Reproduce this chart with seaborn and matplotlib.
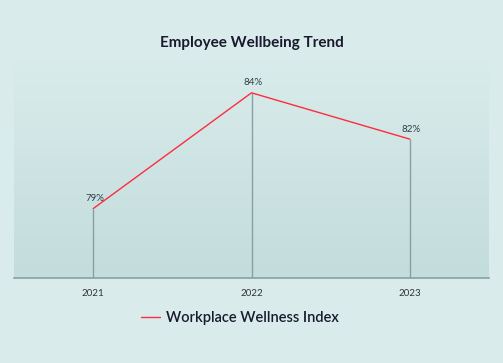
import numpy as np
import pandas as pd
import seaborn as sns
import matplotlib.pyplot as plt
from matplotlib.colors import LinearSegmentedColormap

years = ['2021', '2022', '2023']
wellness = [79, 84, 82]
series_name = 'Workplace Wellness Index'

df = pd.DataFrame({'year': years, 'value': wellness})

sns.set_theme(style='white')
plt.rcParams['font.family'] = ['Lato', 'DejaVu Sans']

bg = '#d9eceb'
fig = plt.figure(figsize=(5.03, 3.63), dpi=100, facecolor=bg)
ax = fig.add_axes([0.028, 0.234, 0.944, 0.606])
ax.set_facecolor(bg)

# gradient panel behind the line
cmap = LinearSegmentedColormap.from_list('g', ['#c3dcdc', '#d9eceb'])
grad = np.linspace(0, 1, 256).reshape(-1, 1)
ax.imshow(grad, cmap=cmap, aspect='auto', extent=[0, 1, 0, 1],
          transform=ax.transAxes, origin='lower', zorder=0)

sns.lineplot(data=df, x='year', y='value', color='#ff2b3f', linewidth=1,
             label=series_name, ax=ax, zorder=3)
ax.vlines(years, 76, wellness, color='#8a9fa3', linewidth=1, zorder=2)

for yr, v in zip(years, wellness):
    ax.annotate(f'{v}%', (yr, v), xytext=(1, 4), textcoords='offset points',
                ha='center', va='bottom', fontsize=7, color='#2f3e46')

ax.set_xlim(-0.5, 2.5)
ax.set_ylim(76, 85.5)
ax.set_yticks([])
ax.set_xlabel('')
ax.set_ylabel('')
for s in ['top', 'right', 'left']:
    ax.spines[s].set_visible(False)
ax.spines['bottom'].set_color('#8a9fa3')
ax.spines['bottom'].set_linewidth(1.2)
ax.tick_params(axis='x', length=0, pad=8, labelsize=7, labelcolor='#333333')

fig.text(0.5, 1 - 43 / 363, 'Employee Wellbeing Trend', ha='center', va='center',
         fontsize=11, fontweight='bold', color='#1a1a2e')

ax.get_legend().remove()
h, l = ax.get_legend_handles_labels()
fig.legend(h, l, loc='center', bbox_to_anchor=(0.477, 1 - 318 / 363), frameon=False,
           prop={'size': 10.5, 'weight': 'semibold'}, handlelength=1.3,
           handletextpad=0.4, labelcolor='#1a1a2e')

fig.savefig('out.png', dpi=100, facecolor=bg)
